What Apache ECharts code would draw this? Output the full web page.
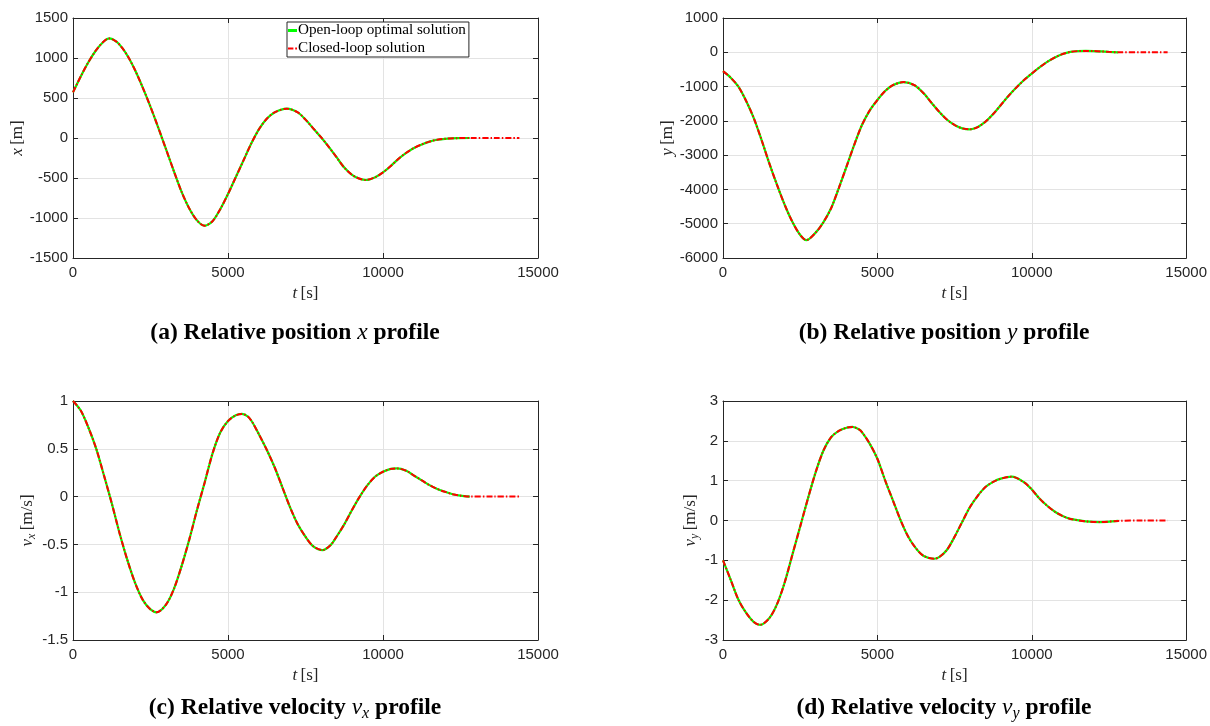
<!DOCTYPE html>
<html>
<head>
<meta charset="utf-8">
<script src="https://cdn.jsdelivr.net/npm/echarts@6/dist/echarts.min.js"></script>
<style>
  html, body { margin: 0; padding: 0; background: #ffffff; }
  #chart { width: 1210px; height: 726px; }
</style>
</head>
<body>
<div id="chart"></div>
<script>
// ---- series names ----
const OPEN_NAME = 'Open-loop optimal solution';
const CLOSED_NAME = 'Closed-loop solution';

// ---- (a) relative position x [m] ----
const tPosX = [0, 250, 500, 750, 1000, 1170, 1400, 1600, 1800, 2000, 2250, 2500, 2750, 3000, 3250, 3500, 3750, 4000, 4230, 4500, 4750, 5000, 5250, 5500, 5750, 6000, 6250, 6500, 6900, 7250, 7500, 7750, 8000, 8250, 8500, 8750, 9000, 9250, 9450, 9750, 10000, 10250, 10500, 10750, 11000, 11250, 11500, 11750, 12000, 12400, 12800];
const posX = [571, 770, 950, 1100, 1210, 1245, 1205, 1120, 1000, 850, 630, 390, 130, -140, -410, -670, -880, -1030, -1096, -1040, -890, -700, -490, -280, -70, 110, 240, 320, 367, 320, 230, 120, 10, -110, -240, -370, -460, -510, -525, -490, -430, -350, -260, -185, -125, -80, -45, -22, -10, -2, 0];

// ---- (b) relative position y [m] ----
const tPosY = [0, 250, 500, 750, 1000, 1250, 1500, 1750, 2000, 2250, 2500, 2700, 3000, 3250, 3500, 3750, 4000, 4250, 4500, 4750, 5000, 5250, 5500, 5850, 6200, 6500, 6750, 7000, 7250, 7500, 7750, 8000, 8250, 8500, 8750, 9000, 9250, 9500, 9750, 10000, 10250, 10500, 10750, 11000, 11250, 11500, 11750, 12000, 12250, 12500, 12800];
const posY = [-550, -740, -1003, -1420, -1926, -2560, -3239, -3870, -4454, -4950, -5329, -5480, -5260, -4960, -4551, -3960, -3336, -2700, -2121, -1700, -1392, -1130, -960, -870, -960, -1197, -1470, -1732, -1960, -2121, -2220, -2247, -2180, -2024, -1800, -1537, -1270, -1030, -810, -620, -440, -280, -150, -50, 10, 35, 40, 35, 25, 12, 0];

// ---- (c) relative velocity v_x [m/s] ----
const tVelX = [0, 250, 500, 750, 1000, 1250, 1500, 1750, 2000, 2250, 2500, 2700, 3000, 3250, 3500, 3750, 4000, 4250, 4500, 4750, 5000, 5250, 5450, 5650, 5800, 6000, 6250, 6500, 6750, 7000, 7250, 7500, 7750, 8050, 8300, 8500, 8750, 9000, 9250, 9500, 9750, 10000, 10250, 10450, 10750, 11000, 11250, 11500, 11750, 12000, 12250, 12500, 12800];
const velX = [1.0, 0.90, 0.72, 0.50, 0.22, -0.07, -0.38, -0.66, -0.90, -1.08, -1.18, -1.21, -1.13, -0.97, -0.73, -0.45, -0.14, 0.15, 0.45, 0.67, 0.79, 0.85, 0.865, 0.835, 0.77, 0.65, 0.49, 0.31, 0.10, -0.11, -0.29, -0.42, -0.52, -0.56, -0.51, -0.42, -0.29, -0.14, 0.0, 0.12, 0.21, 0.26, 0.29, 0.295, 0.27, 0.22, 0.17, 0.12, 0.08, 0.05, 0.025, 0.01, 0];

// ---- (d) relative velocity v_y [m/s] ----
const tVelY = [0, 250, 500, 750, 1000, 1200, 1500, 1750, 2000, 2250, 2500, 2750, 3000, 3250, 3500, 3750, 4000, 4200, 4400, 4500, 4750, 5000, 5250, 5500, 5750, 6000, 6250, 6500, 6850, 7000, 7250, 7500, 7750, 8000, 8250, 8500, 8750, 9000, 9350, 9750, 10000, 10250, 10500, 10750, 11000, 11250, 11750, 12200, 12800];
const velY = [-1.0, -1.49, -1.99, -2.32, -2.55, -2.62, -2.45, -2.10, -1.55, -0.85, -0.15, 0.55, 1.21, 1.75, 2.09, 2.25, 2.33, 2.35, 2.29, 2.22, 1.93, 1.55, 1.01, 0.51, 0.01, -0.41, -0.70, -0.89, -0.96, -0.92, -0.74, -0.41, -0.03, 0.34, 0.62, 0.84, 0.97, 1.05, 1.10, 0.96, 0.78, 0.55, 0.37, 0.22, 0.11, 0.04, -0.02, -0.04, -0.01];

// closed-loop run continues after the open-loop horizon, held at the target
const tTail = [13600, 14400];
const tailValues = [0, 0];

// ---- axis ranges ----
const xTicks = { min: 0, max: 15000, step: 5000 };
const yMins = [-1500, -6000, -1.5, -3];
const yMaxs = [1500, 1000, 1, 3];
const ySteps = [500, 1000, 0.5, 1];

// ---- labels ----
const yNames = ['{i|x} {r|[m]}', '{i|y} {r|[m]}', '{i|v}{s|x} {r|[m/s]}', '{i|v}{s|y} {r|[m/s]}'];
const xName = '{i|t} {r|[s]}';
const captions = [
  '{b|(a) Relative position }{m|x}{b| profile}',
  '{b|(b) Relative position }{m|y}{b| profile}',
  '{b|(c) Relative velocity }{m|v}{ms|x}{b| profile}',
  '{b|(d) Relative velocity }{m|v}{ms|y}{b| profile}'
];

// ---- layout ----
const grids = [
  { left: 73, top: 18, width: 465, height: 240 },
  { left: 723, top: 18, width: 464, height: 240 },
  { left: 73, top: 401, width: 465, height: 239 },
  { left: 723, top: 401, width: 464, height: 239 }
];
const captionPos = [[295, 333], [944, 333], [295, 708], [944, 708]];
const yNameGaps = [44, 45, 24, 17];

const AXIS_COLOR = '#262626';
const serif = 'Liberation Serif';
const sans = 'Liberation Sans';

const nameRich = {
  i: { fontFamily: serif, fontStyle: 'italic', fontSize: 17, color: AXIS_COLOR, lineHeight: 21 },
  r: { fontFamily: serif, fontSize: 17, color: AXIS_COLOR, lineHeight: 21 },
  s: { fontFamily: serif, fontStyle: 'italic', fontSize: 12, color: AXIS_COLOR, lineHeight: 12, verticalAlign: 'bottom' }
};

const captionRich = {
  b: { fontFamily: serif, fontWeight: 'bold', fontSize: 23.5, color: '#000', lineHeight: 28 },
  m: { fontFamily: serif, fontStyle: 'italic', fontSize: 23.5, color: '#000', lineHeight: 28 },
  ms: { fontFamily: serif, fontStyle: 'italic', fontSize: 16, color: '#000', lineHeight: 15, verticalAlign: 'bottom' }
};

const fmt = v => String(Math.round(v * 1000) / 1000);

const xAxes = [];
const yAxes = [];
grids.forEach((g, i) => {
  xAxes.push({
    type: 'value', gridIndex: i, position: 'bottom',
    min: xTicks.min, max: xTicks.max, interval: xTicks.step,
    axisLine: { onZero: false, lineStyle: { color: AXIS_COLOR, width: 1 } },
    axisTick: { inside: true, length: 5, lineStyle: { color: AXIS_COLOR } },
    axisLabel: { color: AXIS_COLOR, fontFamily: sans, fontSize: 15, margin: 7, formatter: fmt },
    splitLine: { show: true, lineStyle: { color: '#e3e3e3', width: 1 } },
    name: xName, nameLocation: 'middle', nameGap: 25,
    nameTextStyle: { rich: nameRich }
  });
  yAxes.push({
    type: 'value', gridIndex: i, position: 'left',
    min: yMins[i], max: yMaxs[i], interval: ySteps[i],
    axisLine: { onZero: false, lineStyle: { color: AXIS_COLOR, width: 1 } },
    axisTick: { inside: true, length: 5, lineStyle: { color: AXIS_COLOR } },
    axisLabel: { color: AXIS_COLOR, fontFamily: sans, fontSize: 15, margin: 5, formatter: fmt },
    splitLine: { show: true, lineStyle: { color: '#e3e3e3', width: 1 } },
    name: yNames[i], nameLocation: 'middle', nameGap: yNameGaps[i], nameRotate: 90,
    nameTextStyle: { rich: nameRich }
  });
});
// box frame: mirrored axes on top and right with inward ticks
grids.forEach((g, i) => {
  xAxes.push({
    type: 'value', gridIndex: i, position: 'top',
    min: xTicks.min, max: xTicks.max, interval: xTicks.step,
    axisLine: { onZero: false, lineStyle: { color: AXIS_COLOR, width: 1 } },
    axisTick: { inside: true, length: 5, lineStyle: { color: AXIS_COLOR } },
    axisLabel: { show: false }, splitLine: { show: false }
  });
  yAxes.push({
    type: 'value', gridIndex: i, position: 'right',
    min: yMins[i], max: yMaxs[i], interval: ySteps[i],
    axisLine: { onZero: false, lineStyle: { color: AXIS_COLOR, width: 1 } },
    axisTick: { inside: true, length: 5, lineStyle: { color: AXIS_COLOR } },
    axisLabel: { show: false }, splitLine: { show: false }
  });
});

const panels = [
  [tPosX, posX], [tPosY, posY], [tVelX, velX], [tVelY, velY]
];

const series = [];
panels.forEach(([t, v], i) => {
  const openData = t.map((tt, k) => [tt, v[k]]);
  const closedData = openData.concat(tTail.map((tt, k) => [tt, tailValues[k]]));
  series.push({
    name: OPEN_NAME, type: 'line', xAxisIndex: i, yAxisIndex: i,
    data: openData, showSymbol: false, symbol: 'none', smooth: 0.3,
    lineStyle: { color: '#00ff00', width: 2.2 }, itemStyle: { color: '#00ff00' }, z: 2
  });
  series.push({
    name: CLOSED_NAME, type: 'line', xAxisIndex: i, yAxisIndex: i,
    data: closedData, showSymbol: false, symbol: 'none', smooth: 0.3,
    lineStyle: { color: '#ff0000', width: 2, type: [6, 2, 1.5, 2] }, itemStyle: { color: '#ff0000' }, z: 3
  });
});

const chart = echarts.init(document.getElementById('chart'), null, { renderer: 'canvas' });
chart.setOption({
  animation: false,
  backgroundColor: '#ffffff',
  grid: grids.map(g => Object.assign({ containLabel: false }, g)),
  xAxis: xAxes,
  yAxis: yAxes,
  legend: {
    left: 287, top: 22, orient: 'vertical',
    itemWidth: 9, itemHeight: 3, itemGap: 3,
    padding: [1, 3, 1, 1],
    borderColor: AXIS_COLOR, borderWidth: 1, backgroundColor: '#ffffff',
    textStyle: { fontFamily: serif, fontSize: 15.2, color: '#000', padding: [0, 0, 0, -4] },
    data: [
      { name: OPEN_NAME, icon: 'rect', itemStyle: { color: '#00ff00' } },
      { name: CLOSED_NAME, icon: 'path://M0,0H6V2H0Z M8,0H10V2H8Z', itemStyle: { color: '#ff0000' } }
    ]
  },
  graphic: captions.map((c, i) => ({
    type: 'text', x: captionPos[i][0], y: captionPos[i][1],
    style: { text: c, rich: captionRich, align: 'center', verticalAlign: 'middle', textAlign: 'center', textVerticalAlign: 'middle' }
  })),
  series: series
});
</script>
</body>
</html>
